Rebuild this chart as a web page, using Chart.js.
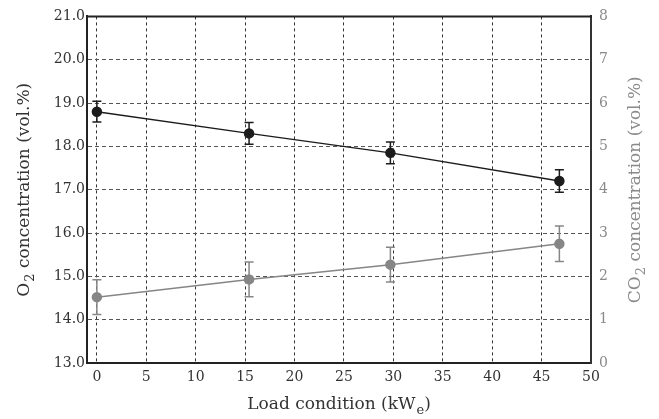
<!DOCTYPE html>
<html>
<head>
<meta charset="utf-8">
<script src="https://cdn.jsdelivr.net/npm/chart.js@4/dist/chart.umd.min.js"></script>
<style>
  html, body { margin: 0; padding: 0; background: #fff; }
  #wrap { width: 659px; height: 419px; }
</style>
</head>
<body>
<div id="wrap"><canvas id="chart" width="659" height="419"></canvas></div>
<script>
// load condition (kWe)
const loads = [0, 15.4, 29.7, 46.8];
// O2 concentration (vol.%) and error
const o2 = [18.8, 18.3, 17.85, 17.2];
const o2Err = [0.24, 0.25, 0.25, 0.26];
// CO2 concentration (vol.%) and error
const co2 = [1.52, 1.93, 2.27, 2.75];
const co2Err = [0.4, 0.4, 0.4, 0.41];

const errors = [o2Err, co2Err];

// axis titles as [text, isSubscript] pieces
const xTitle = [['Load condition (kW', false], ['e', true], [')', false]];
const yTitle = [['O', false], ['2', true], [' concentration (vol.%)', false]];
const y2Title = [['CO', false], ['2', true], [' concentration (vol.%)', false]];

const fontFamily = '"DejaVu Serif", "Liberation Serif", serif';

// vertical error bars with caps
const errorBars = {
    id: 'errorBars',
    afterDatasetsDraw(chart) {
        const ctx = chart.ctx;
        chart.data.datasets.forEach((ds, i) => {
            const meta = chart.getDatasetMeta(i);
            const yScale = chart.scales[meta.yAxisID];
            const err = errors[i];
            ctx.save();
            ctx.strokeStyle = ds.borderColor;
            ctx.lineWidth = 1.5;
            meta.data.forEach((pt, j) => {
                const v = ds.data[j].y;
                const top = yScale.getPixelForValue(v + err[j]);
                const bot = yScale.getPixelForValue(v - err[j]);
                const x = pt.x;
                ctx.beginPath();
                ctx.moveTo(x, top); ctx.lineTo(x, bot);
                ctx.moveTo(x - 4.5, top); ctx.lineTo(x + 4.5, top);
                ctx.moveTo(x - 4.5, bot); ctx.lineTo(x + 4.5, bot);
                ctx.stroke();
            });
            ctx.restore();
        });
    }
};

// draw a title with subscripts, centred on (cx, cy), rotated by angle
function drawTitle(ctx, parts, cx, cy, angle, color) {
    const big = '17px ' + fontFamily;
    const small = '13px ' + fontFamily;
    let total = 0;
    parts.forEach(p => {
        ctx.font = p[1] ? small : big;
        total += ctx.measureText(p[0]).width + (p[1] ? 1 : 0);
    });
    ctx.save();
    ctx.translate(cx, cy);
    ctx.rotate(angle);
    ctx.fillStyle = color;
    ctx.textBaseline = 'middle';
    ctx.textAlign = 'left';
    let x = -total / 2;
    parts.forEach(p => {
        ctx.font = p[1] ? small : big;
        ctx.fillText(p[0], x + (p[1] ? 1 : 0), p[1] ? 6 : 0);
        x += ctx.measureText(p[0]).width + (p[1] ? 1 : 0);
    });
    ctx.restore();
}

// top edge of the frame and the axis titles
const frameAndTitles = {
    id: 'frameAndTitles',
    afterDraw(chart) {
        const {ctx, chartArea} = chart;
        ctx.save();
        ctx.strokeStyle = '#222';
        ctx.lineWidth = 2;
        ctx.beginPath();
        ctx.moveTo(chartArea.left - 1, chartArea.top);
        ctx.lineTo(chartArea.right + 1, chartArea.top);
        ctx.stroke();
        ctx.restore();
        const midY = (chartArea.top + chartArea.bottom) / 2;
        drawTitle(ctx, xTitle, (chartArea.left + chartArea.right) / 2, 405, 0, '#333');
        drawTitle(ctx, yTitle, 25, midY, -Math.PI / 2, '#333');
        drawTitle(ctx, y2Title, 636, midY, -Math.PI / 2, '#8a8a8a');
    }
};

new Chart(document.getElementById('chart').getContext('2d'), {
    type: 'line',
    data: {
        datasets: [
            {
                label: 'O2',
                data: loads.map((x, i) => ({x: x, y: o2[i]})),
                borderColor: '#1c1c1c',
                backgroundColor: '#1c1c1c',
                borderWidth: 1.5,
                pointRadius: 4.5,
                tension: 0,
                yAxisID: 'y'
            },
            {
                label: 'CO2',
                data: loads.map((x, i) => ({x: x, y: co2[i]})),
                borderColor: '#868686',
                backgroundColor: '#868686',
                borderWidth: 1.5,
                pointRadius: 4.5,
                tension: 0,
                yAxisID: 'y2'
            }
        ]
    },
    options: {
        responsive: false,
        animation: false,
        layout: { padding: { top: 13, left: 0, right: 0, bottom: 0 } },
        plugins: {
            legend: { display: false },
            tooltip: { enabled: false }
        },
        scales: {
            x: {
                type: 'linear',
                min: -1,
                max: 50,
                afterFit(scale) { scale.height = 56; },
                ticks: {
                    stepSize: 5,
                    includeBounds: false,
                    padding: 6,
                    color: '#333',
                    font: { family: fontFamily, size: 14 }
                },
                grid: { color: '#333', lineWidth: 1, drawTicks: false },
                border: { color: '#222', width: 2, dash: [3, 3] }
            },
            y: {
                position: 'left',
                min: 13,
                max: 21,
                afterFit(scale) { scale.width = 87; },
                ticks: {
                    stepSize: 1,
                    padding: 2,
                    color: '#333',
                    font: { family: fontFamily, size: 14 },
                    callback: v => v.toFixed(1)
                },
                grid: { color: '#555', lineWidth: 1, drawTicks: false },
                border: { color: '#222', width: 2, dash: [4, 3] }
            },
            y2: {
                position: 'right',
                min: 0,
                max: 8,
                afterFit(scale) { scale.width = 68; },
                ticks: {
                    stepSize: 1,
                    padding: 8,
                    color: '#8a8a8a',
                    font: { family: fontFamily, size: 14 }
                },
                grid: { display: false, drawTicks: false },
                border: { color: '#333', width: 2 }
            }
        }
    },
    plugins: [errorBars, frameAndTitles]
});
</script>
</body>
</html>
